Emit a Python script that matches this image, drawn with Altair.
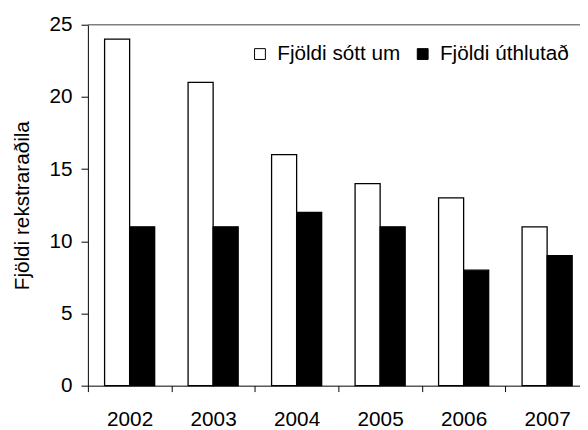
import altair as alt
import pandas as pd

years = ["2002", "2003", "2004", "2005", "2006", "2007"]
applied = [24, 21, 16, 14, 13, 11]
granted = [11, 11, 12, 11, 8, 9]
series = ["Fjöldi sótt um", "Fjöldi úthlutað"]
y_ticks = [0, 5, 10, 15, 20, 25]

rows = []
for i, yr in enumerate(years):
    rows.append({"year": yr, "series": series[0], "value": applied[i]})
    rows.append({"year": yr, "series": series[1], "value": granted[i]})
df = pd.DataFrame(rows)

FONT = "Liberation Sans"
FS = 21

bars = alt.Chart(df).mark_bar(stroke="black", strokeWidth=1.3).encode(
    x=alt.X(
        "year:N", sort=years, title=None,
        scale=alt.Scale(range=[0, 508], paddingInner=0, paddingOuter=0),
        axis=alt.Axis(labelAngle=0, tickBand="extent", tickSize=6, labelPadding=17,
                      labelFont=FONT, labelFontSize=FS, labelColor="black",
                      domainColor="black", tickColor="black", grid=False),
    ),
    xOffset=alt.XOffset("series:N", sort=series,
                        scale=alt.Scale(paddingInner=0, paddingOuter=0.667)),
    y=alt.Y(
        "value:Q", title="Fjöldi rekstraraðila",
        scale=alt.Scale(domain=[0, 25], nice=False),
        axis=alt.Axis(values=y_ticks, tickSize=7, labelPadding=9,
                      labelFont=FONT, labelFontSize=FS, labelColor="black",
                      titleFont=FONT, titleFontSize=FS, titleFontWeight="normal",
                      titleColor="black", titlePadding=17,
                      domainColor="black", tickColor="black", grid=False),
    ),
    fill=alt.Fill(
        "series:N", sort=series,
        scale=alt.Scale(domain=series, range=["#ffffff", "#000000"]),
        legend=alt.Legend(
            title=None, orient="none", direction="horizontal",
            legendX=164, legendY=19, padding=0,
            symbolType="square", symbolSize=121, symbolStrokeColor="black",
            symbolStrokeWidth=1, labelFont=FONT, labelFontSize=FS,
            labelColor="black", labelOffset=7, columnPadding=12,
        ),
    ),
)

top_rule = alt.Chart(pd.DataFrame({"v": [25]})).mark_rule(
    color="#808080", strokeWidth=1.5
).encode(y=alt.Y("v:Q"))

chart = alt.layer(top_rule, bars).properties(
    width=499, height=366,
    padding={"left": 81, "top": 14, "right": 0, "bottom": 42},
    autosize=alt.AutoSizeParams(type="none"),
).configure_view(stroke=None)

chart.save("out.html", embed_options={"renderer": "svg", "actions": False})
